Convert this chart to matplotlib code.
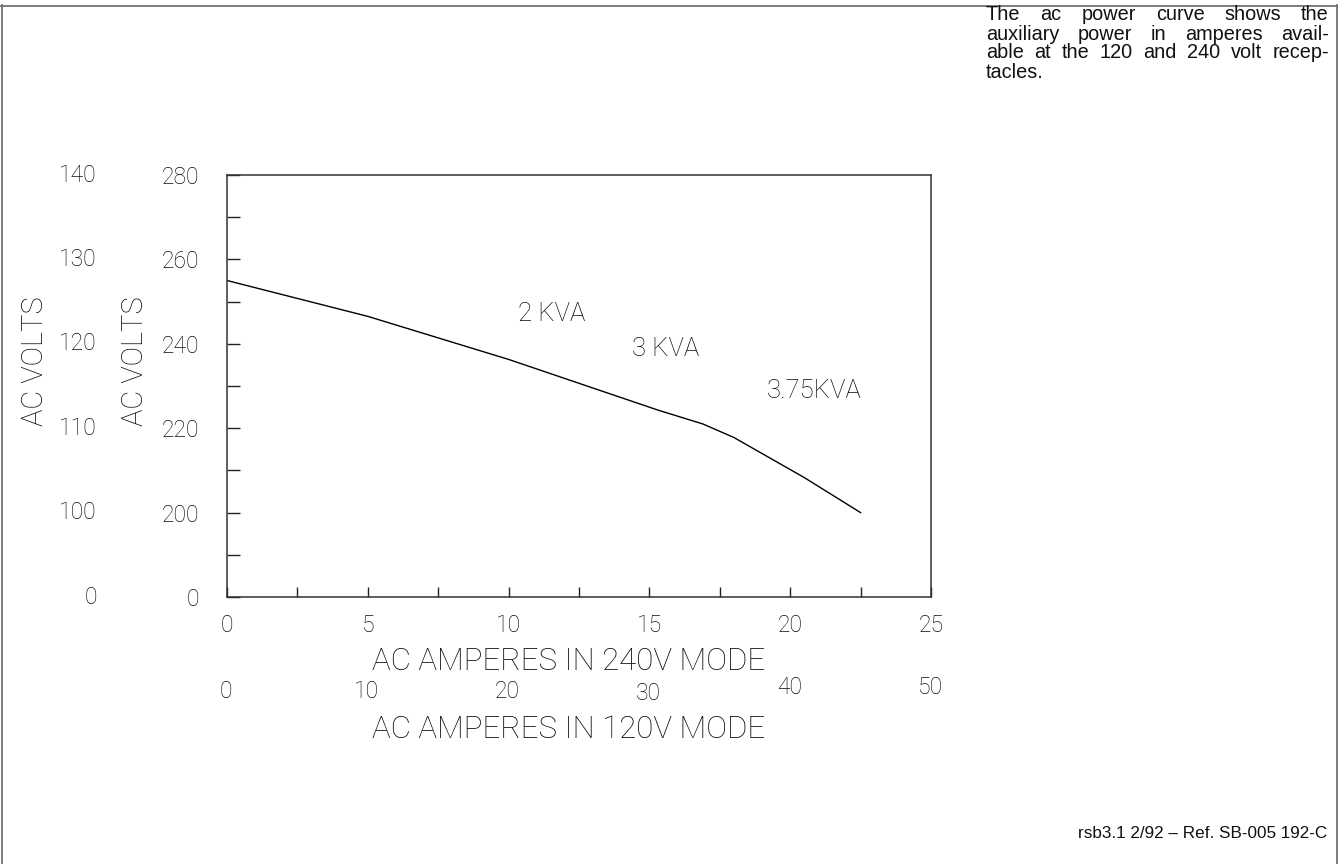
import matplotlib
matplotlib.use("Agg")
import matplotlib.pyplot as plt
from matplotlib.lines import Line2D
from matplotlib.ticker import MultipleLocator
from matplotlib.transforms import blended_transform_factory, offset_copy

# Generator output curve (240 V mode)
amps_240 = [0, 5, 10, 15.3, 16.9, 18, 19, 20.5, 22.5]
volts_240 = [255, 246.5, 236.3, 224.3, 221, 217.8, 214, 208.3, 200]

# Axis scales: the 240 V scale and its 120 V counterpart (broken at the bottom)
y_tick_values = [180, 200, 220, 240, 260, 280]
y_labels_240 = ["0", "200", "220", "240", "260", "280"]
y_labels_120 = ["0", "100", "110", "120", "130", "140"]
x_tick_values = [0, 5, 10, 15, 20, 25]
x_labels_240 = ["0", "5", "10", "15", "20", "25"]
x_labels_120 = ["0", "10", "20", "30", "40", "50"]
x_label_120_raise = [0, 0, 0, -2, 5, 5]

# Power rating labels
kva_labels = ["2 KVA", "3 KVA", "3.75KVA"]
kva_x = [10.33, 14.38, 19.17]
kva_y = [247.0, 238.7, 228.8]

note_lines = [
    "The ac power curve shows the",
    "auxiliary power in amperes avail-",
    "able at the 120 and 240 volt recep-",
    "tacles.",
]
footer = "rsb3.1 2/92 \u2013 Ref. SB-005 192-C"

W, H = 1341, 864
fig = plt.figure(figsize=(W / 100, H / 100), dpi=100)


def fx(px):
    return px / W


def fy(py):
    return 1 - py / H


CAD = dict(family=["Roboto", "DejaVu Sans"], weight="light", color="#0d0d0d")
HELV = dict(family=["Liberation Sans", "DejaVu Sans"], color="#111111")

ax_left, ax_right, ax_top, ax_bottom = 227, 931, 175, 597
ax = fig.add_axes([fx(ax_left), fy(ax_bottom), fx(ax_right - ax_left),
                   (ax_bottom - ax_top) / H])

ax.plot(amps_240, volts_240, color="black", lw=1.0, solid_joinstyle="round")

ax.set_xlim(0, 25)
ax.set_ylim(180, 280)

for sp in ax.spines.values():
    sp.set_color("#333333")
    sp.set_linewidth(1.1)

ax.set_xticks(x_tick_values, x_labels_240)
ax.xaxis.set_minor_locator(MultipleLocator(2.5))
ax.set_yticks(y_tick_values, y_labels_240)
ax.yaxis.set_minor_locator(MultipleLocator(10))
ax.tick_params(axis="both", which="both", direction="in", color="#222222", width=1.0)
ax.tick_params(axis="y", which="both", length=9)
ax.tick_params(axis="x", which="both", length=7)
ax.tick_params(axis="y", which="major", pad=20)
ax.tick_params(axis="x", which="major", pad=12)
for lab in ax.get_xticklabels() + ax.get_yticklabels():
    lab.set_fontfamily(CAD["family"])
    lab.set_fontweight("light")
    lab.set_fontsize(16.5)
    lab.set_color(CAD["color"])

# Outer 120 V voltage scale
ytrans = blended_transform_factory(ax.transAxes, ax.transData)
ytrans_outer = offset_copy(ytrans, fig=fig, x=-130, y=0, units="dots")
for v, lab in zip(y_tick_values, y_labels_120):
    ax.text(0, v, lab, transform=ytrans_outer, ha="right", va="center",
            fontsize=16.5, **CAD)

# Second ampere scale for 120 V mode
xtrans = blended_transform_factory(ax.transData, ax.transAxes)
for a, lab, dy in zip(x_tick_values, x_labels_120, x_label_120_raise):
    t = offset_copy(xtrans, fig=fig, x=-1, y=-(95 - dy), units="dots")
    ax.text(a, 0, lab, transform=t, ha="center", va="center",
            fontsize=16.5, **CAD)

# Axis titles
fig.text(fx(569), fy(661), "AC AMPERES IN 240V MODE", ha="center", va="center",
         fontsize=22.5, **CAD)
fig.text(fx(569), fy(730), "AC AMPERES IN 120V MODE", ha="center", va="center",
         fontsize=22.5, **CAD)
fig.text(fx(35), fy(361), "AC VOLTS", rotation=90, ha="center", va="center",
         fontsize=21, **CAD)
fig.text(fx(135), fy(361), "AC VOLTS", rotation=90, ha="center", va="center",
         fontsize=21, **CAD)

# Rating labels inside the plot
for x, y, lab in zip(kva_x, kva_y, kva_labels):
    ax.text(x, y, lab, ha="left", va="center", fontsize=18.5, **CAD)

# Justified note in the upper right
renderer = fig.canvas.get_renderer()
note_left, note_right = 986, 1329
note_size = 14.3
line_y = [15, 34, 53, 72]
for i, (line, py) in enumerate(zip(note_lines, line_y)):
    words = line.split(" ")
    if i == len(note_lines) - 1:
        fig.text(fx(note_left), fy(py), line, ha="left", va="center",
                 fontsize=note_size, **HELV)
        continue
    texts = [fig.text(0, fy(py), w, ha="left", va="center", fontsize=note_size, **HELV)
             for w in words]
    widths = [t.get_window_extent(renderer).width for t in texts]
    gap = (note_right - note_left - sum(widths)) / (len(words) - 1)
    x = note_left
    for t, w in zip(texts, widths):
        t.set_x(fx(x))
        x += w + gap

fig.text(fx(1327), fy(834), footer, ha="right", va="center", fontsize=12.3, **HELV)

# Page frame
frame = dict(color="#666666", lw=1.2, transform=fig.transFigure)
fig.add_artist(Line2D([fx(1), fx(1337)], [fy(5.5), fy(5.5)], **frame))
fig.add_artist(Line2D([fx(1.5), fx(1.5)], [fy(5), 0], **frame))
fig.add_artist(Line2D([fx(1337), fx(1337)], [fy(5), 0], **frame))

fig.savefig("out.png", dpi=100, facecolor="white")
